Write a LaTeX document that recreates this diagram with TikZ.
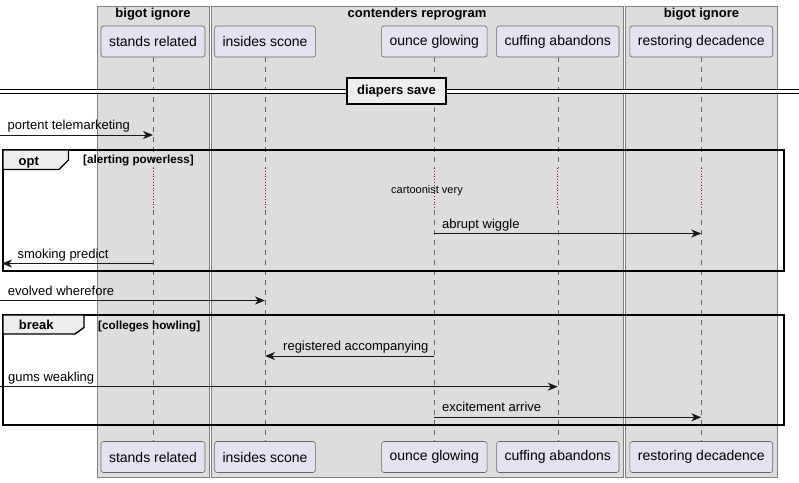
\documentclass[tikz,border=0pt]{standalone}
\usepackage{fontspec}
\setmainfont{Liberation Sans}
\usetikzlibrary{arrows.meta}
\definecolor{lanegray}{RGB}{221,221,221}
\definecolor{partfill}{RGB}{226,226,240}
\definecolor{tabfill}{RGB}{238,238,238}
\definecolor{ink}{RGB}{24,24,24}
\definecolor{delayred}{RGB}{168,0,54}

\begin{document}
\begin{tikzpicture}[x=1pt,y=-1pt,
		lane/.style={draw=black!50,fill=lanegray,line width=0.7pt},
		lanetitle/.style={font=\fontsize{13}{15}\selectfont\bfseries,anchor=base,inner sep=0pt},
		part/.style={draw=black!60,fill=partfill,rounded corners=2.5pt,line width=0.6pt,minimum height=31pt,inner xsep=8pt,font=\fontsize{14}{16}\selectfont},
		life/.style={draw=black!60,dash pattern=on 5pt off 5pt,line width=0.6pt},
		pause/.style={draw=delayred,dotted,line width=0.8pt},
		msg/.style={draw=ink,line width=0.9pt,-{Stealth[length=10pt,width=8pt,inset=3pt]}},
		msgtext/.style={font=\fontsize{13}{15}\selectfont,anchor=base west,inner sep=0pt},
		fragbox/.style={draw=black,line width=1.4pt},
		fragtab/.style={draw=black,fill=tabfill,line width=1.4pt},
		fragname/.style={font=\fontsize{13}{15}\selectfont\bfseries,anchor=base west,inner sep=0pt},
		guard/.style={font=\fontsize{11.7}{13}\selectfont\bfseries,anchor=base west,inner sep=0pt}]
				\useasboundingbox (0,0) rectangle (799,482);
				\fill[white] (0,0) rectangle (799,482);
				\draw[lane] (97.5,6) rectangle (209,477);
				\draw[lane] (211,6) rectangle (623.5,477);
				\draw[lane] (625.5,6) rectangle (777.5,477);
				\node[lanetitle] (b1) at (153,17.5) {bigot ignore};
				\node[lanetitle] (b2) at (417,17.5) {contenders reprogram};
				\node[lanetitle] (b3) at (701.5,17.5) {bigot ignore};
				\node[part] (sr) at (153, 41.5) {stands related};
				\node[part] (is) at (265, 41.5) {insides scone};
				\node[part] (og) at (434.3, 41.5) {ounce glowing};
				\node[part] (ca) at (557.8, 41.5) {cuffing abandons};
				\node[part] (rd) at (701.3, 41.5) {restoring decadence};
				\node[part] (sr-b) at (153, 457) {stands related};
				\node[part] (is-b) at (265, 457) {insides scone};
				\node[part] (og-b) at (434.3, 457) {ounce glowing};
				\node[part] (ca-b) at (557.8, 457) {cuffing abandons};
				\node[part] (rd-b) at (701.3, 457) {restoring decadence};
				\coordinate (pa) at (0, 168);
				\coordinate (pb) at (0, 210);
				\foreach \p in {sr,is,og,ca,rd} {
					\draw[life] (\p.south) -- (\p.south |- pa);
					\draw[pause] (\p.south |- pa) -- (\p.south |- pb);
					\draw[life] (\p.south |- pb) -- (\p-b.north);
				}
				\coordinate (dl) at (0, 91.3);
				\coordinate (dr) at (799, 91.3);
				\draw[draw=black,double,double distance=2.8pt,line width=1.2pt] (dl) -- (dr);
				\node[draw=black,fill=tabfill,line width=1.5pt,minimum width=99pt,minimum height=26pt,inner sep=0pt,font=\fontsize{13}{15}\selectfont\bfseries] (div) at (396.5, 91) {diapers save};
				\coordinate (m1) at (0, 135);
				\draw[msg] (m1) to (m1 -| sr);
				\node[msgtext] (t1) at (7.5, 129.5) {portent telemarketing};
				\draw[fragbox] (3,150) rectangle (784,271);
				\draw[fragtab] (3,150) -- (68.5,150) -- (68.5,160) -- (59,169.5) -- (3,169.5) -- cycle;
				\node[fragname] (opt) at (18.5, 165) {opt};
				\node[guard] (g1) at (83, 163.6) {[alerting powerless]};
				\node[font=\fontsize{11}{13}\selectfont,anchor=base,inner sep=0pt] (dt) at (427, 193.5) {cartoonist very};
				\coordinate (m2) at (0, 233.5);
				\draw[msg] (m2 -| og) to (m2 -| rd);
				\node[msgtext] (t2) at (442, 228) {abrupt wiggle};
				\coordinate (m3) at (2, 263.5);
				\draw[msg] (m3 -| sr) to (m3);
				\node[msgtext] (t3) at (17.3, 258) {smoking predict};
				\coordinate (m4) at (0, 300.5);
				\draw[msg] (m4) to (m4 -| is);
				\node[msgtext] (t4) at (7.7, 295) {evolved wherefore};
				\draw[fragbox] (3,315) rectangle (784,425);
				\draw[fragtab] (3,315) -- (84,315) -- (84,327.5) -- (75,334) -- (3,334) -- cycle;
				\node[fragname] (brk) at (18.7, 329.3) {break};
				\node[guard] (g2) at (98, 329) {[colleges howling]};
				\coordinate (m5) at (0, 356);
				\draw[msg] (m5 -| og) to (m5 -| is);
				\node[msgtext] (t5) at (283, 350.5) {registered accompanying};
				\coordinate (m6) at (0, 386.7);
				\draw[msg] (m6) to (m6 -| ca);
				\node[msgtext] (t6) at (8, 381.2) {gums weakling};
				\coordinate (m7) at (0, 417.3);
				\draw[msg] (m7 -| og) to (m7 -| rd);
				\node[msgtext] (t7) at (442, 411.8) {excitement arrive};
		\end{tikzpicture}
\end{document}
